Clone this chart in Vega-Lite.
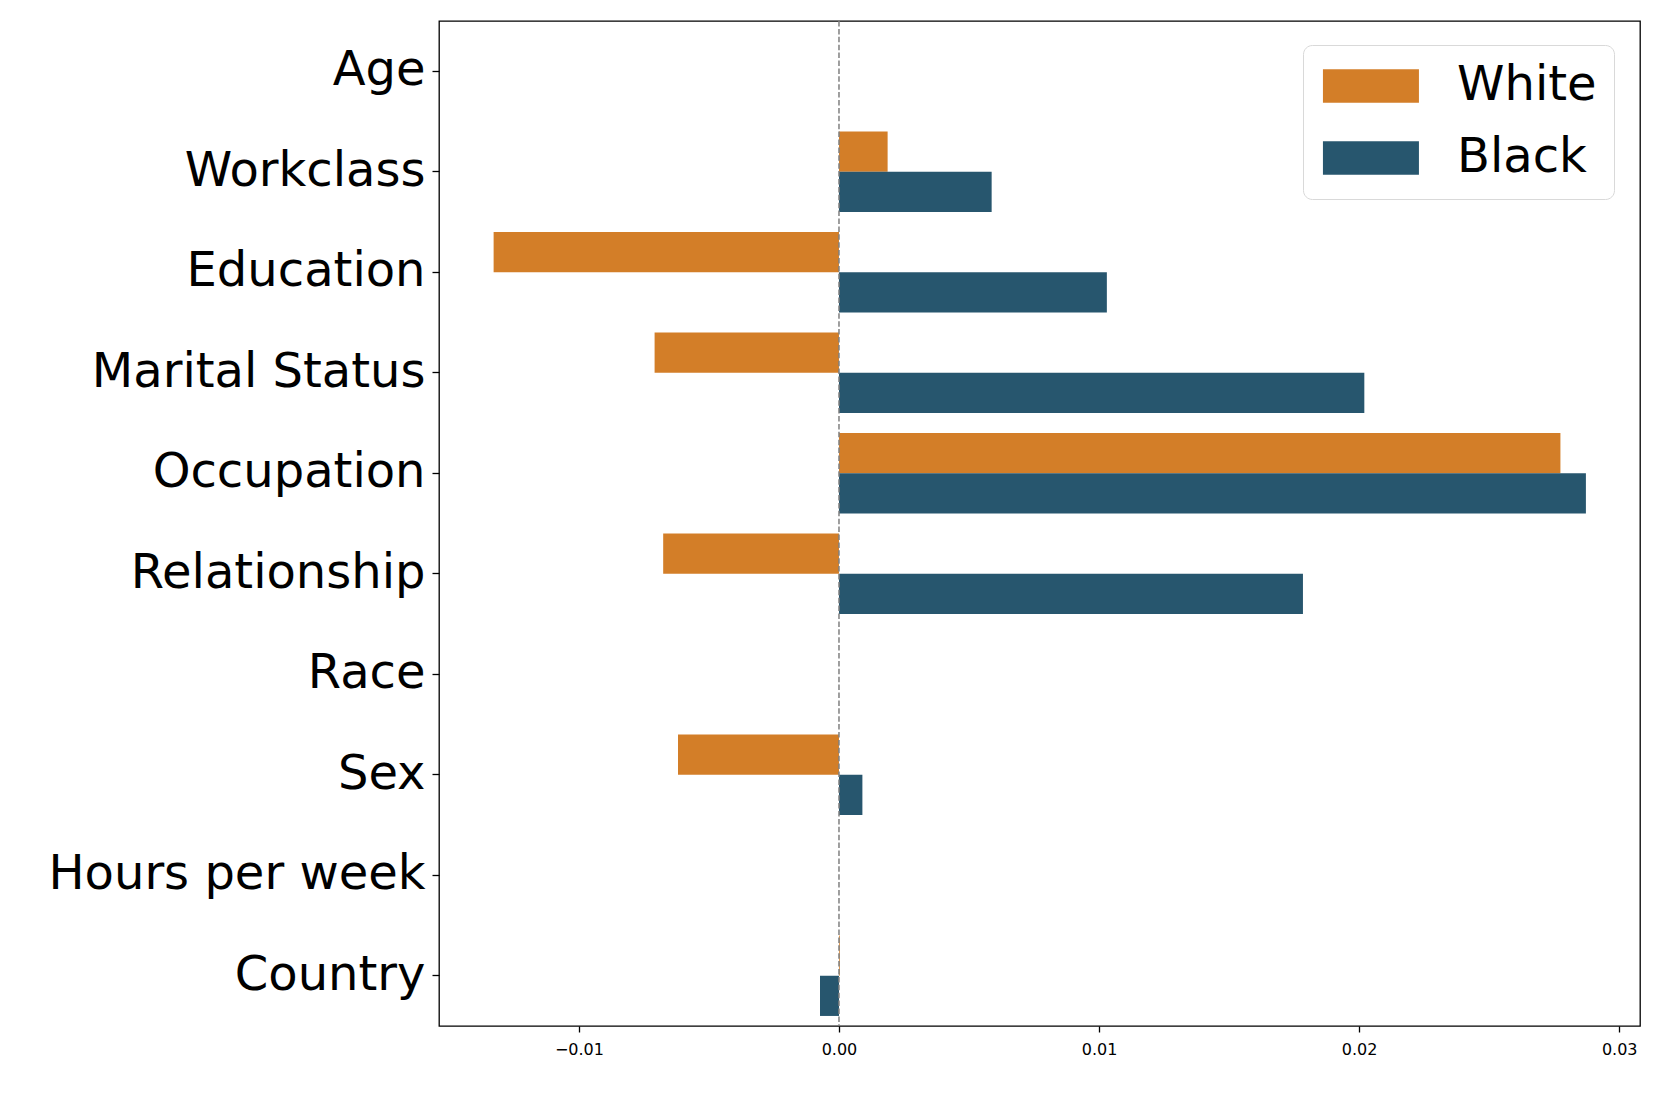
{
  "$schema": "https://vega.github.io/schema/vega-lite/v6.json",
  "width": 1201,
  "height": 1005,
  "padding": {"left": 48, "top": 20, "right": 5, "bottom": 5},
  "background": "white",
  "config": {
    "font": "DejaVu Sans",
    "view": {"stroke": "black", "strokeWidth": 1.3}
  },
  "data": {
    "values": [
      {"feature": "Age", "race": "White", "value": 0},
      {"feature": "Age", "race": "Black", "value": 0},
      {"feature": "Workclass", "race": "White", "value": 0.00187},
      {"feature": "Workclass", "race": "Black", "value": 0.00587},
      {"feature": "Education", "race": "White", "value": -0.01328},
      {"feature": "Education", "race": "Black", "value": 0.0103},
      {"feature": "Marital Status", "race": "White", "value": -0.00709},
      {"feature": "Marital Status", "race": "Black", "value": 0.0202},
      {"feature": "Occupation", "race": "White", "value": 0.02774},
      {"feature": "Occupation", "race": "Black", "value": 0.02872},
      {"feature": "Relationship", "race": "White", "value": -0.00676},
      {"feature": "Relationship", "race": "Black", "value": 0.01784},
      {"feature": "Race", "race": "White", "value": 0},
      {"feature": "Race", "race": "Black", "value": 0},
      {"feature": "Sex", "race": "White", "value": -0.00619},
      {"feature": "Sex", "race": "Black", "value": 0.0009},
      {"feature": "Hours per week", "race": "White", "value": 0},
      {"feature": "Hours per week", "race": "Black", "value": 0},
      {"feature": "Country", "race": "White", "value": 0.00003},
      {"feature": "Country", "race": "Black", "value": -0.00073}
    ]
  },
  "layer": [
    {
      "mark": {"type": "bar"},
      "encoding": {
        "y": {
          "field": "feature",
          "type": "nominal",
          "sort": ["Age", "Workclass", "Education", "Marital Status", "Occupation", "Relationship", "Race", "Sex", "Hours per week", "Country"],
          "scale": {"paddingInner": 0.2, "paddingOuter": 0.1},
          "axis": {
            "title": null,
            "labelFontSize": 48,
            "labelColor": "black",
            "labelPadding": 7,
            "tickSize": 7,
            "tickColor": "black",
            "tickWidth": 1.3,
            "domain": false,
            "labelLimit": 600
          }
        },
        "yOffset": {"field": "race", "type": "nominal", "sort": ["White", "Black"]},
        "x": {
          "field": "value",
          "type": "quantitative",
          "scale": {"domain": [-0.01538, 0.0308], "nice": false, "zero": false},
          "axis": {
            "title": null,
            "values": [-0.01, 0, 0.01, 0.02, 0.03],
            "format": ".2f",
            "labelFontSize": 16,
            "labelColor": "black",
            "tickColor": "black",
            "tickWidth": 1.3,
            "tickSize": 6,
            "labelPadding": 9,
            "grid": false,
            "domain": false
          }
        },
        "color": {
          "field": "race",
          "type": "nominal",
          "scale": {"domain": ["White", "Black"], "range": ["#D37E28", "#27566E"]},
          "legend": {
            "title": null,
            "orient": "none",
            "legendX": 864,
            "legendY": 24,
            "symbolType": "M-1.17,-0.925L4.163,-0.925L4.163,0.925L-1.17,0.925Z",
            "symbolSize": 1296,
            "symbolStrokeWidth": 0,
            "labelFontSize": 48,
            "labelColor": "black",
            "labelOffset": 89,
            "rowPadding": 24,
            "padding": 17,
            "strokeColor": "#d9d9d9",
            "fillColor": "white",
            "cornerRadius": 9
          }
        }
      }
    },
    {
      "data": {"values": [{"v": 0}]},
      "mark": {"type": "rule", "strokeDash": [5.5, 2.4], "color": "gray", "strokeWidth": 1.5},
      "encoding": {"x": {"field": "v", "type": "quantitative"}}
    }
  ]
}
